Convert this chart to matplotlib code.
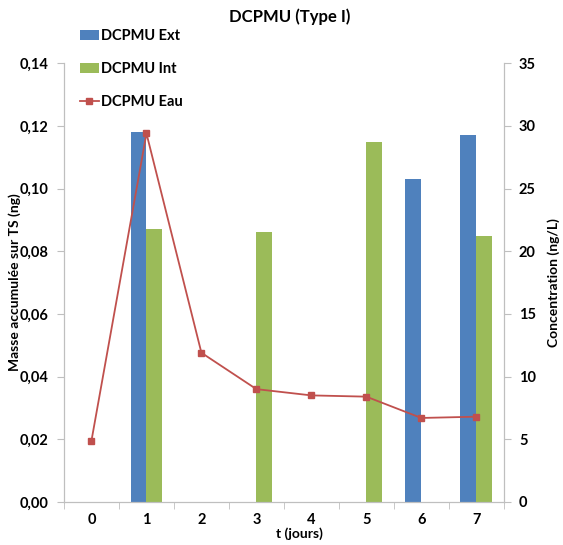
import matplotlib
matplotlib.use("Agg")
import matplotlib.pyplot as plt
import numpy as np

plt.rcParams['font.family'] = ['Lato', 'DejaVu Sans']
plt.rcParams['font.weight'] = 'bold'

days = [0, 1, 2, 3, 4, 5, 6, 7]
ext = [0, 0.118, 0, 0, 0, 0, 0.103, 0.117]
int_ = [0, 0.087, 0, 0.086, 0, 0.115, 0, 0.085]
eau = [4.9, 29.4, 11.9, 9.0, 8.5, 8.4, 6.7, 6.8]

blue = '#4F81BD'
green = '#9BBB59'
red = '#C0504D'
grey = '#BFBFBF'

fig = plt.figure(figsize=(5.63, 5.45), dpi=100)
ax = fig.add_axes([0.1137, 0.079, 0.781, 0.805])
ax2 = ax.twinx()

x = np.arange(len(days))
w = 0.29
ax.bar(x - w / 2, ext, w, color=blue, label='DCPMU Ext')
ax.bar(x + w / 2, int_, w, color=green, label='DCPMU Int')
ax2.plot(x, eau, color=red, marker='s', markersize=5, linewidth=1.3, label='DCPMU Eau')

ax.set_xlim(-0.5, 7.5)
ax.set_ylim(0, 0.14)
ax2.set_ylim(0, 35)
ax.set_yticks(np.arange(0, 0.141, 0.02))
ax.set_yticklabels([f"{v:.2f}".replace('.', ',') for v in np.arange(0, 0.141, 0.02)])
ax2.set_yticks(np.arange(0, 36, 5))
ax.set_xticks(x)
ax.set_xticklabels([str(d) for d in days])
ax.set_xticks(np.arange(-0.5, 7.6, 1), minor=True)
ax.tick_params(axis='x', which='major', length=0, pad=8)
ax.tick_params(axis='x', which='minor', length=5, color=grey, direction='out')

for a in (ax, ax2):
    for s in a.spines.values():
        s.set_color(grey)
    a.spines['top'].set_visible(False)
    a.tick_params(axis='y', color=grey, length=5, labelsize=10.5, pad=6)
ax.tick_params(axis='x', labelsize=10.5)

ax.set_ylabel('Masse accumulée sur TS (ng)', fontsize=10, fontweight='bold')
ax2.set_ylabel('Concentration (ng/L)', fontsize=10, fontweight='bold')
ax.set_xlabel('t (jours)', fontsize=10, fontweight='bold')
ax.xaxis.set_label_coords(0.535, -0.058)
ax.yaxis.set_label_coords(-0.098, 0.5)
ax2.yaxis.set_label_coords(1.10, 0.5)
fig.suptitle('DCPMU (Type I)', x=0.515, y=0.985, fontsize=12, fontweight='bold')

handles = ax.get_legend_handles_labels()[0] + ax2.get_legend_handles_labels()[0]
labels = ['DCPMU Ext', 'DCPMU Int', 'DCPMU Eau']
fig.legend(handles, labels, loc='upper left', bbox_to_anchor=(0.118, 0.97),
           frameon=False, fontsize=10.5, labelspacing=1.3, handlelength=1.3,
           handletextpad=0.2)

fig.savefig('out.png', dpi=100)
